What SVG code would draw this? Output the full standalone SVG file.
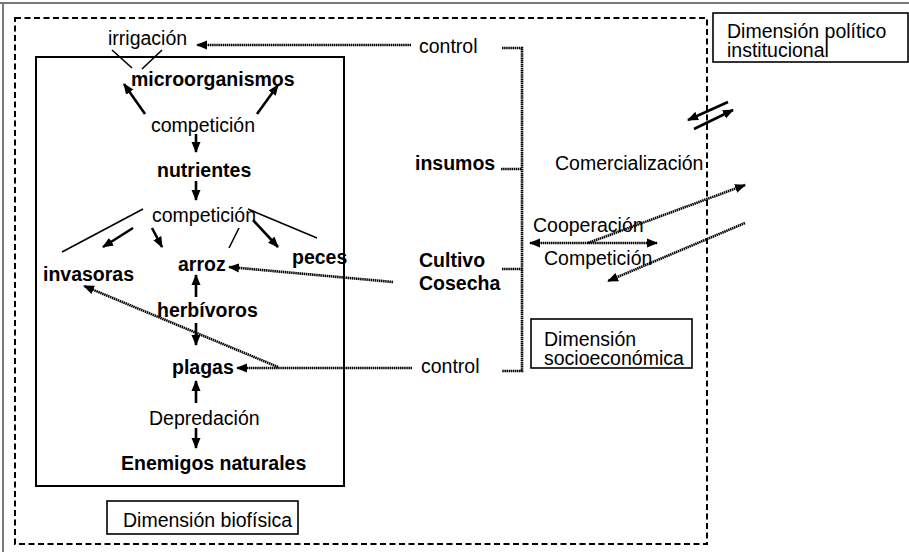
<svg xmlns="http://www.w3.org/2000/svg" width="909" height="552" viewBox="0 0 909 552">
<style>
text{font-family:"Liberation Sans",Arial,sans-serif;font-size:19.5px;fill:#000}
.b{font-weight:bold}
.a{stroke:#000;stroke-width:2.6;fill:none;marker-end:url(#ah)}
.l{stroke:#000;stroke-width:1.6;fill:none}
.d{stroke:#000;stroke-width:2.6;fill:none;stroke-dasharray:1.5 0.6}
.da{marker-end:url(#ah)}
.box{fill:#fff;stroke:#000;stroke-width:1.6}
</style>
<defs>
<marker id="ah" markerUnits="userSpaceOnUse" markerWidth="11" markerHeight="10" refX="10" refY="5" orient="auto-start-reverse">
<path d="M0,0.5 L11,5 L0,9.5 z" fill="#000"/>
</marker>
</defs>
<rect width="909" height="552" fill="#fff"/>
<g id="frame">
<line x1="0" y1="3" x2="909" y2="3" stroke="#7a7a7a" stroke-width="2"/>
<line x1="3" y1="2" x2="3" y2="552" stroke="#7a7a7a" stroke-width="2"/>
</g>
<g id="dim-socio-region">
<rect x="15" y="18" width="692" height="526" fill="none" stroke="#000" stroke-width="2" stroke-dasharray="6 3.5"/>
</g>
<g id="dim-bio-region">
<rect x="36" y="57" width="308" height="429" fill="none" stroke="#000" stroke-width="2"/>
</g>
<g id="connectors">
<line class="a" x1="145" y1="114" x2="124" y2="84"/>
<line class="a" x1="257" y1="114" x2="278" y2="85"/>
<line class="a" x1="196" y1="134" x2="196" y2="152"/>
<line class="a" x1="196" y1="181" x2="196" y2="200"/>
<line class="a" x1="133" y1="228" x2="103" y2="247"/>
<line class="a" x1="152" y1="228" x2="162" y2="247"/>
<line class="a" x1="253" y1="220" x2="278" y2="247"/>
<line class="a" x1="196" y1="297" x2="196" y2="275"/>
<line class="a" x1="196" y1="323" x2="196" y2="345"/>
<line class="a" x1="196" y1="403" x2="196" y2="381"/>
<line class="a" x1="196" y1="428" x2="196" y2="448"/>
<line class="a" x1="728" y1="102" x2="688" y2="120"/>
<line class="a" x1="694" y1="129" x2="733" y2="110"/>
<line class="l" x1="112" y1="50" x2="132" y2="68"/>
<line class="l" x1="162" y1="50" x2="142" y2="69"/>
<line class="l" x1="143" y1="209" x2="62" y2="252"/>
<line class="l" x1="239" y1="228" x2="229" y2="248"/>
<line class="l" x1="248" y1="209" x2="317" y2="238"/>
<line class="d da" x1="411" y1="45" x2="197" y2="45"/>
<line class="d da" x1="393" y1="282" x2="229" y2="267"/>
<line class="d da" x1="412" y1="368" x2="237" y2="368"/>
<line class="d da" x1="278" y1="367" x2="84" y2="286"/>
<line class="d da" x1="530" y1="243" x2="657" y2="243" marker-start="url(#ah)"/>
<line class="d da" x1="588" y1="243" x2="745" y2="185"/>
<line class="d da" x1="745" y1="223" x2="608" y2="281"/>
<polyline class="d" points="502,48 522,48 522,371 502,371"/>
<line class="d" x1="501" y1="169" x2="522" y2="169"/>
<line class="d" x1="502" y1="269" x2="522" y2="269"/>
</g>
<g id="irrigacion"><text x="108" y="45">irrigación</text></g>
<g id="microorganismos"><text class="b" x="131" y="86">microorganismos</text></g>
<g id="competicion1"><text x="151" y="132">competición</text></g>
<g id="nutrientes"><text class="b" x="157" y="177">nutrientes</text></g>
<g id="competicion2"><text x="152" y="222">competición</text></g>
<g id="invasoras"><text class="b" x="43" y="281">invasoras</text></g>
<g id="arroz"><text class="b" x="178" y="271">arroz</text></g>
<g id="peces"><text class="b" x="292" y="264">peces</text></g>
<g id="herbivoros"><text class="b" x="157" y="317">herbívoros</text></g>
<g id="plagas"><text class="b" x="172" y="374">plagas</text></g>
<g id="depredacion"><text x="149" y="425">Depredación</text></g>
<g id="enemigos"><text class="b" x="121" y="470">Enemigos naturales</text></g>
<g id="control1"><text x="419" y="53">control</text></g>
<g id="insumos"><text class="b" x="415" y="170">insumos</text></g>
<g id="cultivo"><text class="b" x="419" y="267">Cultivo</text><text class="b" x="419" y="290">Cosecha</text></g>
<g id="control2"><text x="421" y="373">control</text></g>
<g id="comercializacion"><text x="555" y="170">Comercialización</text></g>
<g id="cooperacion"><text x="533" y="232">Cooperación</text></g>
<g id="competicion3"><text x="544" y="265">Competición</text></g>
<g id="label-bio"><rect class="box" x="107" y="501" width="191" height="33"/><text x="123" y="527">Dimensión biofísica</text></g>
<g id="label-socio"><rect class="box" x="531" y="319" width="161" height="49"/><text x="544" y="346">Dimensión</text><text x="544" y="365">socioeconómica</text></g>
<g id="label-politico"><rect class="box" x="713" y="13" width="195" height="49"/><text x="727" y="38">Dimensión político</text><text x="727" y="57">institucional</text></g>
</svg>
